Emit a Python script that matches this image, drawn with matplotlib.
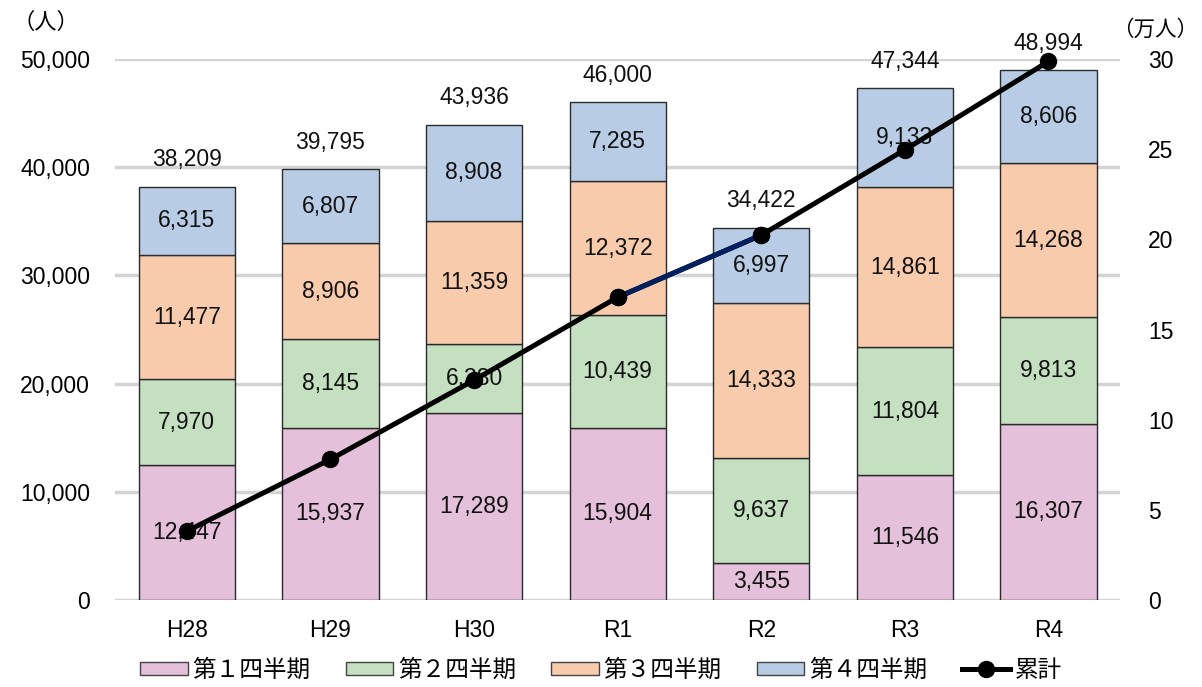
import numpy as np
import matplotlib
matplotlib.use("Agg")
import matplotlib.pyplot as plt
from matplotlib.patches import Patch
from matplotlib.lines import Line2D

plt.rcParams['font.family'] = ['Liberation Sans', 'Noto Sans CJK JP', 'DejaVu Sans']

years = ["H28", "H29", "H30", "R1", "R2", "R3", "R4"]
q1 = [12447, 15937, 17289, 15904, 3455, 11546, 16307]
q2 = [7970, 8145, 6380, 10439, 9637, 11804, 9813]
q3 = [11477, 8906, 11359, 12372, 14333, 14861, 14268]
q4 = [6315, 6807, 8908, 7285, 6997, 9133, 8606]
series_names = ["第１四半期", "第２四半期", "第３四半期", "第４四半期"]
line_name = "累計"

colors = ["#E4C0DB", "#C4E0C1", "#F8CBAD", "#B8CDE5"]

data = np.array([q1, q2, q3, q4])
totals = data.sum(axis=0)
cumulative = np.cumsum(totals) / 10000.0

FS = 16.5
fig = plt.figure(figsize=(12.02, 6.87), dpi=100)
ax = fig.add_axes([0.0957, 0.1266, 0.8363, 0.7874])
x = np.arange(len(years))
width = 0.67

bottom = np.zeros(len(years))
for vals, c in zip(data, colors):
    ax.bar(x, vals, width, bottom=bottom, color=c, edgecolor="#2a2a2a",
           linewidth=1.0, zorder=2)
    for xi, b, v in zip(x, bottom, vals):
        ax.text(xi, b + v / 2, f"{v:,}", ha="center", va="center",
                fontsize=FS, color="#111111", zorder=3)
    bottom = bottom + vals

for xi, t in zip(x, totals):
    ax.annotate(f"{t:,}", (xi, t), xytext=(0, 11), textcoords="offset points",
                ha="center", va="bottom", fontsize=FS, color="#111111")

ax.set_xlim(-0.5, len(years) - 0.5)
ax.set_ylim(0, 50000)
ax.set_yticks(np.arange(0, 50001, 10000))
ax.set_yticklabels([f"{v:,}" for v in range(0, 50001, 10000)], fontsize=FS)
ax.set_xticks(x)
ax.set_xticklabels(years, fontsize=FS)
ax.grid(axis="y", color="#D4D4D4", linewidth=2.5, zorder=0)
ax.set_axisbelow(True)
for s in ax.spines.values():
    s.set_visible(False)
ax.tick_params(axis="y", length=0, pad=18)
ax.tick_params(axis="x", length=0, pad=14)

ax2 = ax.twinx()
ax2.set_ylim(0, 30)
ax2.set_yticks(np.arange(0, 31, 5))
ax2.set_yticklabels([str(v) for v in range(0, 31, 5)], fontsize=FS)
for s in ax2.spines.values():
    s.set_visible(False)
ax2.tick_params(length=0, pad=20)
ax2.plot(x, cumulative, color="black", linewidth=3.6, marker="o",
         markersize=11.5, clip_on=False, zorder=5)
ax2.plot(x[3:5], cumulative[3:5], color="#002060", linewidth=3.6,
         solid_capstyle="butt", zorder=6)
ax2.plot(x[3:5], cumulative[3:5], "o", color="black", markersize=11.5, zorder=7)

fig.text(0.038, 0.966, "（人）", ha="center", va="center", fontsize=16)
fig.text(0.961, 0.956, "（万人）", ha="center", va="center", fontsize=15.5)

handles = [Patch(facecolor=c, edgecolor="#444444", linewidth=1.0) for c in colors]
handles.append(Line2D([0], [0], color="black", linewidth=3.6, marker="o", markersize=11.5))
fig.legend(handles, series_names + [line_name], loc="center",
           bbox_to_anchor=(0.5, 0.024), ncol=5, frameon=False, fontsize=17,
           handlelength=2.0, handleheight=0.5, handletextpad=0.2,
           columnspacing=1.5)

fig.savefig("out.png", dpi=100)
